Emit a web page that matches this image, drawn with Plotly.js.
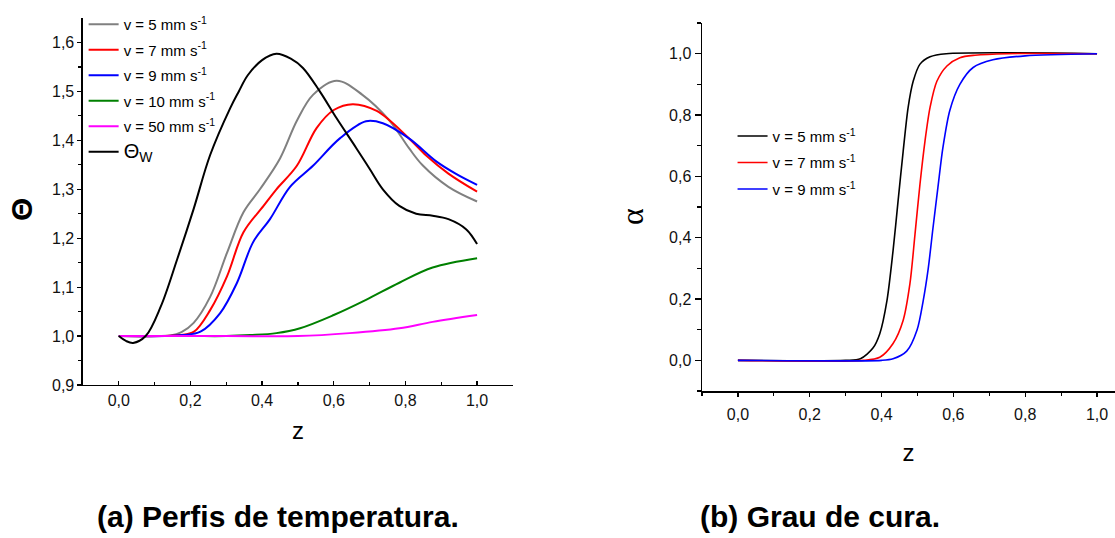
<!DOCTYPE html>
<html>
<head>
<meta charset="utf-8">
<script src="https://cdn.plot.ly/plotly-3.0.1.min.js"></script>
<style>
html,body{margin:0;padding:0;background:#fff;}
#chart{width:1115px;height:538px;}
</style>
</head>
<body>
<div id="chart"></div>
<script>
// ---- Panel (a): temperature profiles ----
const zW   = [0, 0.02, 0.04, 0.075, 0.117, 0.163, 0.209, 0.255, 0.311, 0.335, 0.36, 0.40, 0.44, 0.48, 0.514, 0.561, 0.608, 0.663, 0.70, 0.737, 0.783, 0.83, 0.876, 0.92, 0.97, 1.0];
const thW  = [1.0, 0.99, 0.986, 1.0, 1.06, 1.157, 1.26, 1.37, 1.466, 1.50, 1.533, 1.564, 1.577, 1.567, 1.548, 1.50, 1.445, 1.384, 1.342, 1.30, 1.266, 1.25, 1.246, 1.239, 1.218, 1.188];

const zV5  = [0, 0.1, 0.144, 0.175, 0.209, 0.255, 0.302, 0.348, 0.394, 0.45, 0.497, 0.542, 0.608, 0.68, 0.756, 0.81, 0.848, 0.92, 1.0];
const thV5 = [1.0, 1.0, 1.001, 1.008, 1.027, 1.08, 1.17, 1.253, 1.30, 1.363, 1.44, 1.493, 1.522, 1.493, 1.44, 1.384, 1.349, 1.305, 1.275];

const zV7  = [0, 0.12, 0.17, 0.21, 0.255, 0.302, 0.348, 0.404, 0.44, 0.497, 0.552, 0.6, 0.653, 0.72, 0.81, 0.858, 0.92, 1.0];
const thV7 = [1.0, 1.0, 1.002, 1.009, 1.053, 1.122, 1.212, 1.266, 1.30, 1.348, 1.425, 1.462, 1.474, 1.46, 1.404, 1.369, 1.332, 1.295];

const zV9  = [0, 0.13, 0.18, 0.228, 0.283, 0.33, 0.375, 0.422, 0.478, 0.542, 0.617, 0.69, 0.737, 0.81, 0.886, 0.94, 1.0];
const thV9 = [1.0, 1.0, 1.002, 1.009, 1.047, 1.109, 1.192, 1.239, 1.305, 1.348, 1.404, 1.439, 1.435, 1.404, 1.357, 1.332, 1.309];

const zV10  = [0, 0.2, 0.3, 0.367, 0.44, 0.506, 0.6, 0.69, 0.783, 0.876, 1.0];
const thV10 = [1.0, 1.0, 1.0, 1.002, 1.006, 1.016, 1.043, 1.074, 1.109, 1.14, 1.159];

const zV50  = [0, 0.3, 0.5, 0.644, 0.783, 0.876, 1.0];
const thV50 = [1.0, 1.0, 1.0, 1.006, 1.016, 1.029, 1.043];

// ---- Panel (b): degree of cure ----
const zA5  = [0, 0.3, 0.341, 0.376, 0.395, 0.415, 0.432, 0.446, 0.46, 0.474, 0.488, 0.507, 0.535, 0.58, 1.0];
const aA5  = [0, 0, 0.005, 0.04, 0.087, 0.195, 0.358, 0.52, 0.68, 0.825, 0.91, 0.966, 0.99, 1.0, 1.0];
const zA7  = [0, 0.35, 0.395, 0.432, 0.46, 0.479, 0.493, 0.507, 0.521, 0.535, 0.554, 0.582, 0.618, 0.66, 0.75, 1.0];
const aA7  = [0, 0, 0.01, 0.055, 0.13, 0.25, 0.41, 0.575, 0.716, 0.825, 0.91, 0.96, 0.987, 0.995, 1.0, 1.0];
const zA9  = [0, 0.4, 0.432, 0.47, 0.499, 0.516, 0.53, 0.543, 0.557, 0.571, 0.59, 0.618, 0.655, 0.71, 0.8, 1.0];
const aA9  = [0, 0, 0.005, 0.03, 0.1, 0.195, 0.30, 0.43, 0.565, 0.695, 0.815, 0.9, 0.955, 0.98, 0.993, 1.0];

const namesA = ['v = 5 mm s<sup>-1</sup>', 'v = 7 mm s<sup>-1</sup>', 'v = 9 mm s<sup>-1</sup>', 'v = 10 mm s<sup>-1</sup>', 'v = 50 mm s<sup>-1</sup>', '<span style="font-size:20px">Θ<sub>W</sub></span>'];
const namesB = ['v = 5 mm s<sup>-1</sup>', 'v = 7 mm s<sup>-1</sup>', 'v = 9 mm s<sup>-1</sup>'];
const xTicks = [0, 0.2, 0.4, 0.6, 0.8, 1.0];
const yTicksA = [0.9, 1.0, 1.1, 1.2, 1.3, 1.4, 1.5, 1.6];
const yTicksB = [0, 0.2, 0.4, 0.6, 0.8, 1.0];
const captions = ['(a) Perfis de temperatura.', '(b) Grau de cura.'];
const yTitles = ['Θ', 'α'];

const FONT = 'Liberation Sans, Arial, sans-serif';

function lineA(x, y, name, color, grp) {
  return {x: x, y: y, name: name, type: 'scatter', mode: 'lines', xaxis: 'x', yaxis: 'y',
          line: {color: color, width: 2, shape: 'spline', smoothing: 1.0},
          legend: 'legend', legendgroup: grp};
}
function lineB(x, y, name, color, grp) {
  return {x: x, y: y, name: name, type: 'scatter', mode: 'lines', xaxis: 'x2', yaxis: 'y2',
          line: {color: color, width: 1.6, shape: 'spline', smoothing: 0.8},
          legend: 'legend2', legendgroup: grp};
}

const traces = [
  lineA(zV5, thV5, namesA[0], '#808080', 'a1'),
  lineA(zV7, thV7, namesA[1], '#ff0000', 'a2'),
  lineA(zV9, thV9, namesA[2], '#0000ff', 'a3'),
  lineA(zV10, thV10, namesA[3], '#008000', 'a4'),
  lineA(zV50, thV50, namesA[4], '#ff00ff', 'a5'),
  lineA(zW, thW, namesA[5], '#000000', 'a6'),
  lineB(zA5, aA5, namesB[0], '#000000', 'b1'),
  lineB(zA7, aA7, namesB[1], '#ff0000', 'b2'),
  lineB(zA9, aA9, namesB[2], '#0000ff', 'b3')
];

const axBase = {
  showgrid: false, zeroline: false, showline: true, linecolor: '#000', linewidth: 1.5,
  ticks: 'outside', ticklen: 5, tickwidth: 1.2, tickcolor: '#000',
  tickfont: {family: FONT, size: 16, color: '#111'}, mirror: false, fixedrange: true
};

const layout = {
  width: 1115, height: 538,
  margin: {l: 0, r: 0, t: 0, b: 0},
  paper_bgcolor: '#fff', plot_bgcolor: 'rgba(0,0,0,0)',
  separators: ',.',
  font: {family: FONT, color: '#000'},
  showlegend: true,
  xaxis: Object.assign({}, axBase, {
    domain: [0.0744, 0.460], range: [-0.1, 1.1], anchor: 'y',
    tickmode: 'array', tickvals: xTicks, tickformat: '.1f', ticks: 'inside', ticklen: 4,
    minor: {tickvals: [0.1, 0.3, 0.5, 0.7, 0.9], ticks: 'inside', ticklen: 3, tickcolor: '#000'},
    title: {text: 'z', font: {family: FONT, size: 24}, standoff: 14}
  }),
  yaxis: Object.assign({}, axBase, {
    domain: [0.2844, 0.9665], range: [0.9, 1.65], anchor: 'x',
    tickmode: 'array', tickvals: yTicksA, tickformat: '.1f', ticklen: 4,
    minor: {tickvals: [0.95, 1.05, 1.15, 1.25, 1.35, 1.45, 1.55], ticks: 'outside', ticklen: 3, tickcolor: '#000'}
  }),
  xaxis2: Object.assign({}, axBase, {
    domain: [0.6296, 1.0], range: [-0.1, 1.05], anchor: 'y2',
    tickmode: 'array', tickvals: xTicks, tickformat: '.1f', ticklen: 4, ticklabelstandoff: 4,
    minor: {tickvals: [-0.1, 0.1, 0.3, 0.5, 0.7, 0.9], ticks: 'outside', ticklen: 3, tickcolor: '#000'},
    title: {text: 'z', font: {family: FONT, size: 24}, standoff: 22}
  }),
  yaxis2: Object.assign({}, axBase, {
    domain: [0.2732, 0.9572], range: [-0.1, 1.1], anchor: 'x2',
    tickmode: 'array', tickvals: yTicksB, tickformat: '.1f', ticklen: 6,
    minor: {tickvals: [-0.1, 0.1, 0.3, 0.5, 0.7, 0.9, 1.1], ticks: 'outside', ticklen: 4, tickcolor: '#000'}
  }),
  legend: {
    x: 0.075, y: 0.985, xanchor: 'left', yanchor: 'top', xref: 'paper', yref: 'paper',
    bgcolor: 'rgba(0,0,0,0)', borderwidth: 0, tracegroupgap: 3,
    font: {family: FONT, size: 15, color: '#000'}, itemwidth: 30
  },
  legend2: {
    x: 0.657, y: 0.7775, xanchor: 'left', yanchor: 'top', xref: 'paper', yref: 'paper',
    bgcolor: 'rgba(0,0,0,0)', borderwidth: 0, tracegroupgap: 4,
    font: {family: FONT, size: 15, color: '#000'}, itemwidth: 30
  },
  annotations: [
    {text: '<b>' + yTitles[0] + '</b>', xref: 'paper', yref: 'paper', x: 21/1115, y: 1 - 210/538,
     xanchor: 'center', yanchor: 'middle', textangle: -90, showarrow: false,
     font: {family: FONT, size: 30, color: '#000'}},
    {text: yTitles[1], xref: 'paper', yref: 'paper', x: 632/1115, y: 1 - 217/538,
     xanchor: 'center', yanchor: 'middle', textangle: -90, showarrow: false,
     font: {family: 'Liberation Serif, serif', size: 32, color: '#000'}},
    {text: '<b>' + captions[0] + '</b>', xref: 'paper', yref: 'paper', x: 278/1115, y: 1 - 516/538,
     xanchor: 'center', yanchor: 'middle', showarrow: false, font: {family: FONT, size: 30, color: '#000'}},
    {text: '<b>' + captions[1] + '</b>', xref: 'paper', yref: 'paper', x: 820/1115, y: 1 - 516/538,
     xanchor: 'center', yanchor: 'middle', showarrow: false, font: {family: FONT, size: 30, color: '#000'}}
  ]
};

Plotly.newPlot('chart', traces, layout, {displayModeBar: false, staticPlot: true});
</script>
</body>
</html>
